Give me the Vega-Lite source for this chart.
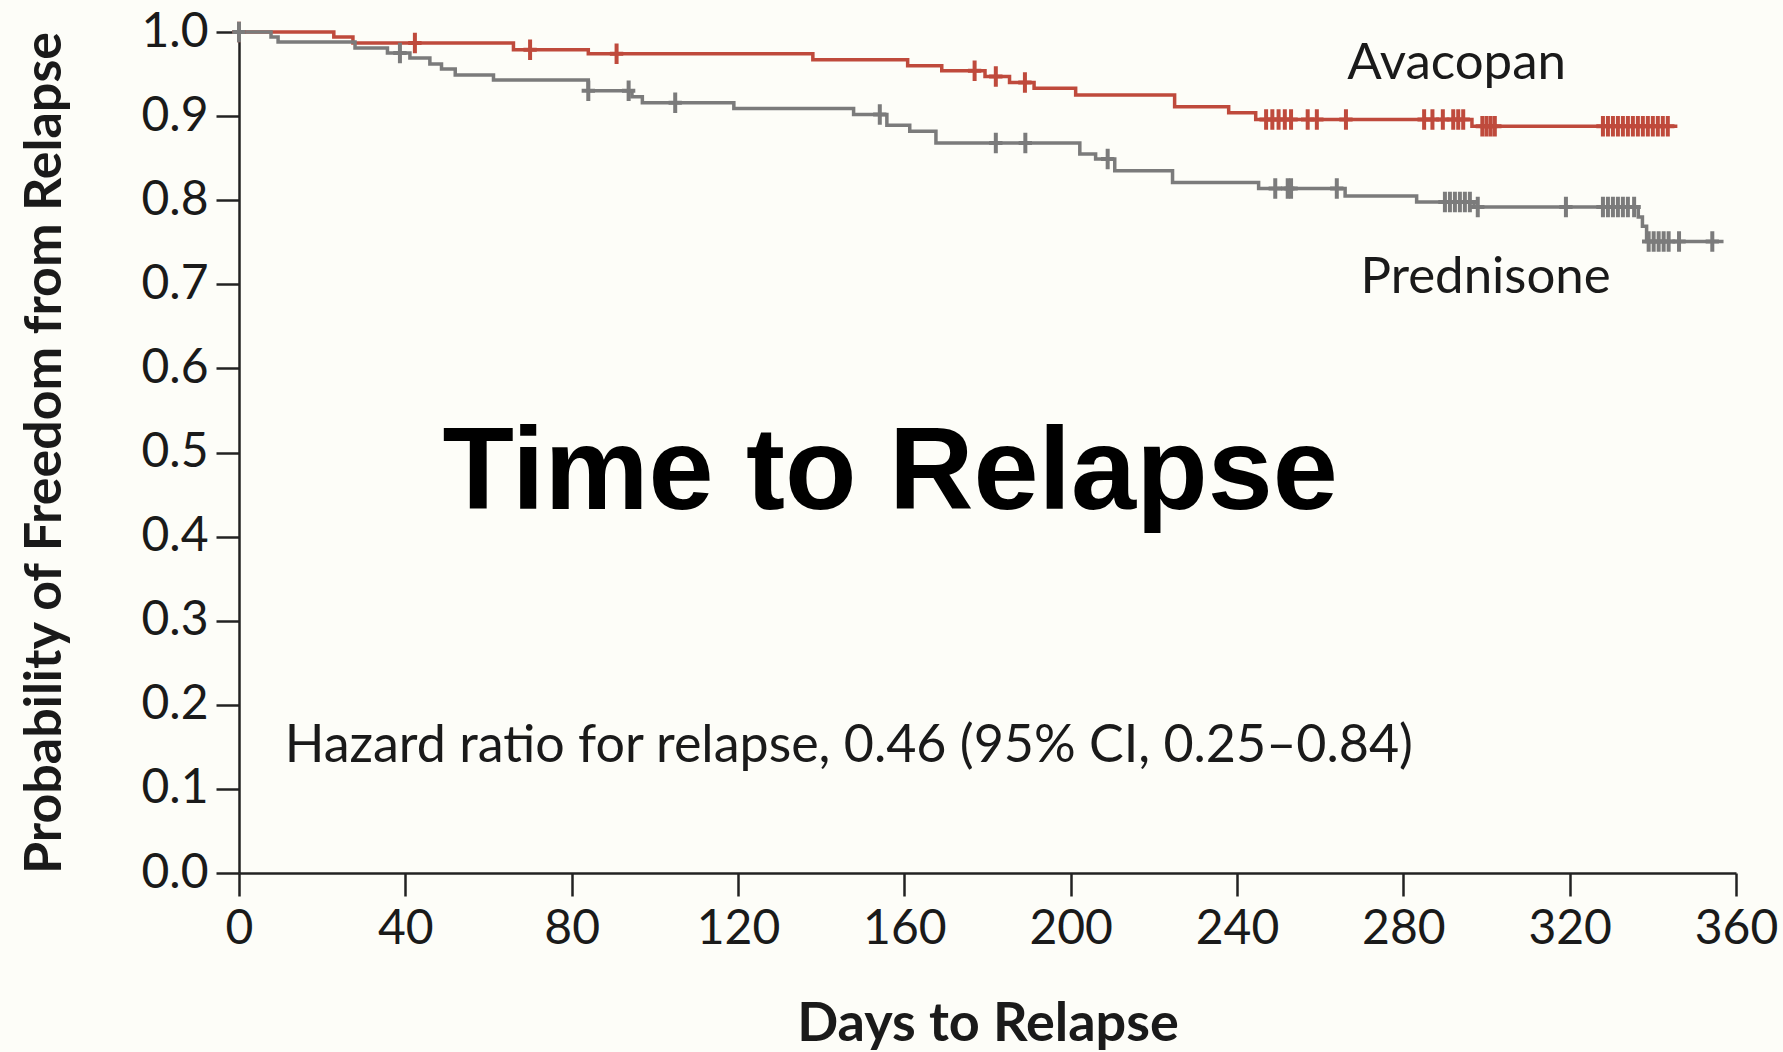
{
  "$schema": "https://vega.github.io/schema/vega-lite/v6.json",
  "width": 1497,
  "height": 841,
  "autosize": {"type": "none"},
  "padding": {"left": 239, "top": 32, "right": 47, "bottom": 179},
  "background": "#fdfdf8",
  "config": {
    "view": {"stroke": null},
    "axis": {
      "grid": false,
      "domainColor": "#222222",
      "domainWidth": 2.5,
      "tickColor": "#222222",
      "tickWidth": 2.5,
      "tickSize": 23,
      "labelFont": "Lato",
      "labelFontSize": 48,
      "labelColor": "#1a1a1a",
      "labelFlush": false,
      "labelOverlap": false,
      "titleFont": "Lato",
      "titleFontWeight": "bold",
      "titleColor": "#1a1a1a"
    }
  },
  "datasets": {
    "curve": [
      {"group": "Avacopan", "day": 0, "s": 1.0},
      {"group": "Avacopan", "day": 22.8, "s": 0.994},
      {"group": "Avacopan", "day": 27.4, "s": 0.987},
      {"group": "Avacopan", "day": 66, "s": 0.979},
      {"group": "Avacopan", "day": 84, "s": 0.974},
      {"group": "Avacopan", "day": 138, "s": 0.967},
      {"group": "Avacopan", "day": 160.8, "s": 0.96},
      {"group": "Avacopan", "day": 169, "s": 0.954},
      {"group": "Avacopan", "day": 179.4, "s": 0.947},
      {"group": "Avacopan", "day": 185.3, "s": 0.94},
      {"group": "Avacopan", "day": 191.2, "s": 0.933},
      {"group": "Avacopan", "day": 201.2, "s": 0.925},
      {"group": "Avacopan", "day": 225, "s": 0.911},
      {"group": "Avacopan", "day": 238, "s": 0.904},
      {"group": "Avacopan", "day": 244.5, "s": 0.896},
      {"group": "Avacopan", "day": 296.5, "s": 0.888},
      {"group": "Avacopan", "day": 345.9, "s": 0.888},
      {"group": "Prednisone", "day": 0, "s": 1.0},
      {"group": "Prednisone", "day": 7.7, "s": 0.994},
      {"group": "Prednisone", "day": 9.4, "s": 0.988},
      {"group": "Prednisone", "day": 27.9, "s": 0.981},
      {"group": "Prednisone", "day": 35.7, "s": 0.975},
      {"group": "Prednisone", "day": 41.1, "s": 0.969},
      {"group": "Prednisone", "day": 45.9, "s": 0.962},
      {"group": "Prednisone", "day": 48.7, "s": 0.956},
      {"group": "Prednisone", "day": 52, "s": 0.949},
      {"group": "Prednisone", "day": 61.2, "s": 0.943},
      {"group": "Prednisone", "day": 84, "s": 0.93},
      {"group": "Prednisone", "day": 94.5, "s": 0.923},
      {"group": "Prednisone", "day": 97, "s": 0.916},
      {"group": "Prednisone", "day": 119, "s": 0.909},
      {"group": "Prednisone", "day": 147.8, "s": 0.902},
      {"group": "Prednisone", "day": 155.8, "s": 0.889},
      {"group": "Prednisone", "day": 161.3, "s": 0.882},
      {"group": "Prednisone", "day": 167.6, "s": 0.868},
      {"group": "Prednisone", "day": 202.2, "s": 0.855},
      {"group": "Prednisone", "day": 206, "s": 0.849},
      {"group": "Prednisone", "day": 210.6, "s": 0.835},
      {"group": "Prednisone", "day": 224.5, "s": 0.821},
      {"group": "Prednisone", "day": 245.2, "s": 0.814},
      {"group": "Prednisone", "day": 266, "s": 0.805},
      {"group": "Prednisone", "day": 283.2, "s": 0.798},
      {"group": "Prednisone", "day": 297, "s": 0.792},
      {"group": "Prednisone", "day": 336.5, "s": 0.78},
      {"group": "Prednisone", "day": 337.5, "s": 0.769},
      {"group": "Prednisone", "day": 338.5, "s": 0.751},
      {"group": "Prednisone", "day": 357, "s": 0.751}
    ],
    "censor": [
      {"group": "Avacopan", "day": 0, "s": 1.0},
      {"group": "Avacopan", "day": 42.3, "s": 0.987},
      {"group": "Avacopan", "day": 70, "s": 0.979},
      {"group": "Avacopan", "day": 90.8, "s": 0.974},
      {"group": "Avacopan", "day": 176.9, "s": 0.954},
      {"group": "Avacopan", "day": 182, "s": 0.947},
      {"group": "Avacopan", "day": 189, "s": 0.94},
      {"group": "Avacopan", "day": 247, "s": 0.896},
      {"group": "Avacopan", "day": 248.5, "s": 0.896},
      {"group": "Avacopan", "day": 250, "s": 0.896},
      {"group": "Avacopan", "day": 251.5, "s": 0.896},
      {"group": "Avacopan", "day": 253, "s": 0.896},
      {"group": "Avacopan", "day": 257, "s": 0.896},
      {"group": "Avacopan", "day": 259.2, "s": 0.896},
      {"group": "Avacopan", "day": 266.2, "s": 0.896},
      {"group": "Avacopan", "day": 285, "s": 0.896},
      {"group": "Avacopan", "day": 287, "s": 0.896},
      {"group": "Avacopan", "day": 289.5, "s": 0.896},
      {"group": "Avacopan", "day": 292, "s": 0.896},
      {"group": "Avacopan", "day": 293.2, "s": 0.896},
      {"group": "Avacopan", "day": 294.4, "s": 0.896},
      {"group": "Avacopan", "day": 299, "s": 0.888},
      {"group": "Avacopan", "day": 300, "s": 0.888},
      {"group": "Avacopan", "day": 301, "s": 0.888},
      {"group": "Avacopan", "day": 302, "s": 0.888},
      {"group": "Avacopan", "day": 328, "s": 0.888},
      {"group": "Avacopan", "day": 329.2, "s": 0.888},
      {"group": "Avacopan", "day": 330.4, "s": 0.888},
      {"group": "Avacopan", "day": 331.6, "s": 0.888},
      {"group": "Avacopan", "day": 332.8, "s": 0.888},
      {"group": "Avacopan", "day": 334, "s": 0.888},
      {"group": "Avacopan", "day": 335.2, "s": 0.888},
      {"group": "Avacopan", "day": 336.4, "s": 0.888},
      {"group": "Avacopan", "day": 337.6, "s": 0.888},
      {"group": "Avacopan", "day": 338.8, "s": 0.888},
      {"group": "Avacopan", "day": 340, "s": 0.888},
      {"group": "Avacopan", "day": 341.2, "s": 0.888},
      {"group": "Avacopan", "day": 342.4, "s": 0.888},
      {"group": "Avacopan", "day": 343.6, "s": 0.888},
      {"group": "Prednisone", "day": 0, "s": 1.0},
      {"group": "Prednisone", "day": 38.7, "s": 0.975},
      {"group": "Prednisone", "day": 84, "s": 0.93},
      {"group": "Prednisone", "day": 93.7, "s": 0.93},
      {"group": "Prednisone", "day": 104.9, "s": 0.916},
      {"group": "Prednisone", "day": 154.1, "s": 0.902},
      {"group": "Prednisone", "day": 182, "s": 0.868},
      {"group": "Prednisone", "day": 189.1, "s": 0.868},
      {"group": "Prednisone", "day": 208.9, "s": 0.849},
      {"group": "Prednisone", "day": 249.2, "s": 0.814},
      {"group": "Prednisone", "day": 252.2, "s": 0.814},
      {"group": "Prednisone", "day": 253, "s": 0.814},
      {"group": "Prednisone", "day": 264, "s": 0.814},
      {"group": "Prednisone", "day": 290, "s": 0.798},
      {"group": "Prednisone", "day": 291.2, "s": 0.798},
      {"group": "Prednisone", "day": 292.4, "s": 0.798},
      {"group": "Prednisone", "day": 293.6, "s": 0.798},
      {"group": "Prednisone", "day": 294.8, "s": 0.798},
      {"group": "Prednisone", "day": 296, "s": 0.798},
      {"group": "Prednisone", "day": 297.9, "s": 0.792},
      {"group": "Prednisone", "day": 319.1, "s": 0.792},
      {"group": "Prednisone", "day": 328, "s": 0.792},
      {"group": "Prednisone", "day": 329.2, "s": 0.792},
      {"group": "Prednisone", "day": 330.4, "s": 0.792},
      {"group": "Prednisone", "day": 331.6, "s": 0.792},
      {"group": "Prednisone", "day": 332.8, "s": 0.792},
      {"group": "Prednisone", "day": 334, "s": 0.792},
      {"group": "Prednisone", "day": 335.5, "s": 0.792},
      {"group": "Prednisone", "day": 339, "s": 0.751},
      {"group": "Prednisone", "day": 340.2, "s": 0.751},
      {"group": "Prednisone", "day": 341.4, "s": 0.751},
      {"group": "Prednisone", "day": 342.6, "s": 0.751},
      {"group": "Prednisone", "day": 343.8, "s": 0.751},
      {"group": "Prednisone", "day": 346.3, "s": 0.751},
      {"group": "Prednisone", "day": 354.3, "s": 0.751}
    ]
  },
  "layer": [
    {
      "data": {"name": "curve"},
      "mark": {"type": "line", "interpolate": "step-after", "strokeWidth": 3.5},
      "encoding": {
        "x": {
          "field": "day", "type": "quantitative",
          "scale": {"domain": [0, 360], "nice": false, "zero": false},
          "axis": {
            "values": [0, 40, 80, 120, 160, 200, 240, 280, 320, 360],
            "labelPadding": 9,
            "title": "Days to Relapse",
            "titleFontSize": 54,
            "titleY": 167,
            "titleBaseline": "alphabetic"
          }
        },
        "y": {
          "field": "s", "type": "quantitative",
          "scale": {"domain": [0, 1], "nice": false},
          "axis": {
            "values": [0, 0.1, 0.2, 0.3, 0.4, 0.5, 0.6, 0.7, 0.8, 0.9, 1.0],
            "format": ".1f",
            "labelPadding": 8,
            "title": "Probability of Freedom from Relapse",
            "titleFontSize": 52,
            "titleAngle": 270,
            "titleX": -179,
            "titleY": 420.5,
            "titleAlign": "center",
            "titleBaseline": "alphabetic"
          }
        },
        "color": {
          "field": "group", "type": "nominal",
          "scale": {"domain": ["Avacopan", "Prednisone"], "range": ["#bf4a3c", "#7b7b7b"]},
          "legend": null
        },
        "detail": {"field": "group"}
      }
    },
    {
      "data": {"name": "censor"},
      "mark": {"type": "point", "shape": "M0,-1V1M-0.65,0H0.65", "filled": false, "size": 420, "strokeWidth": 4, "opacity": 1},
      "encoding": {
        "x": {"field": "day", "type": "quantitative"},
        "y": {"field": "s", "type": "quantitative"},
        "color": {"field": "group", "type": "nominal", "legend": null}
      }
    },
    {
      "data": {"values": [{"day": 156.6, "s": 0.4328, "label": "Time to Relapse"}]},
      "mark": {"type": "text", "font": "Liberation Sans", "fontWeight": "bold", "fontSize": 117, "align": "center", "baseline": "alphabetic", "color": "#000000"},
      "encoding": {
        "x": {"field": "day", "type": "quantitative"},
        "y": {"field": "s", "type": "quantitative"},
        "text": {"field": "label"}
      }
    },
    {
      "data": {"values": [
        {"day": 11.0, "s": 0.1323, "label": "Hazard ratio for relapse, 0.46 (95% CI, 0.25–0.84)", "size": 52}
      ]},
      "mark": {"type": "text", "font": "Lato", "fontSize": 52, "align": "left", "baseline": "alphabetic", "color": "#1a1a1a"},
      "encoding": {
        "x": {"field": "day", "type": "quantitative"},
        "y": {"field": "s", "type": "quantitative"},
        "text": {"field": "label"}
      }
    },
    {
      "data": {"values": [
        {"day": 266.5, "s": 0.944, "label": "Avacopan"},
        {"day": 269.7, "s": 0.69, "label": "Prednisone"}
      ]},
      "mark": {"type": "text", "font": "Lato", "fontSize": 51, "align": "left", "baseline": "alphabetic", "color": "#1a1a1a"},
      "encoding": {
        "x": {"field": "day", "type": "quantitative"},
        "y": {"field": "s", "type": "quantitative"},
        "text": {"field": "label"}
      }
    }
  ]
}
